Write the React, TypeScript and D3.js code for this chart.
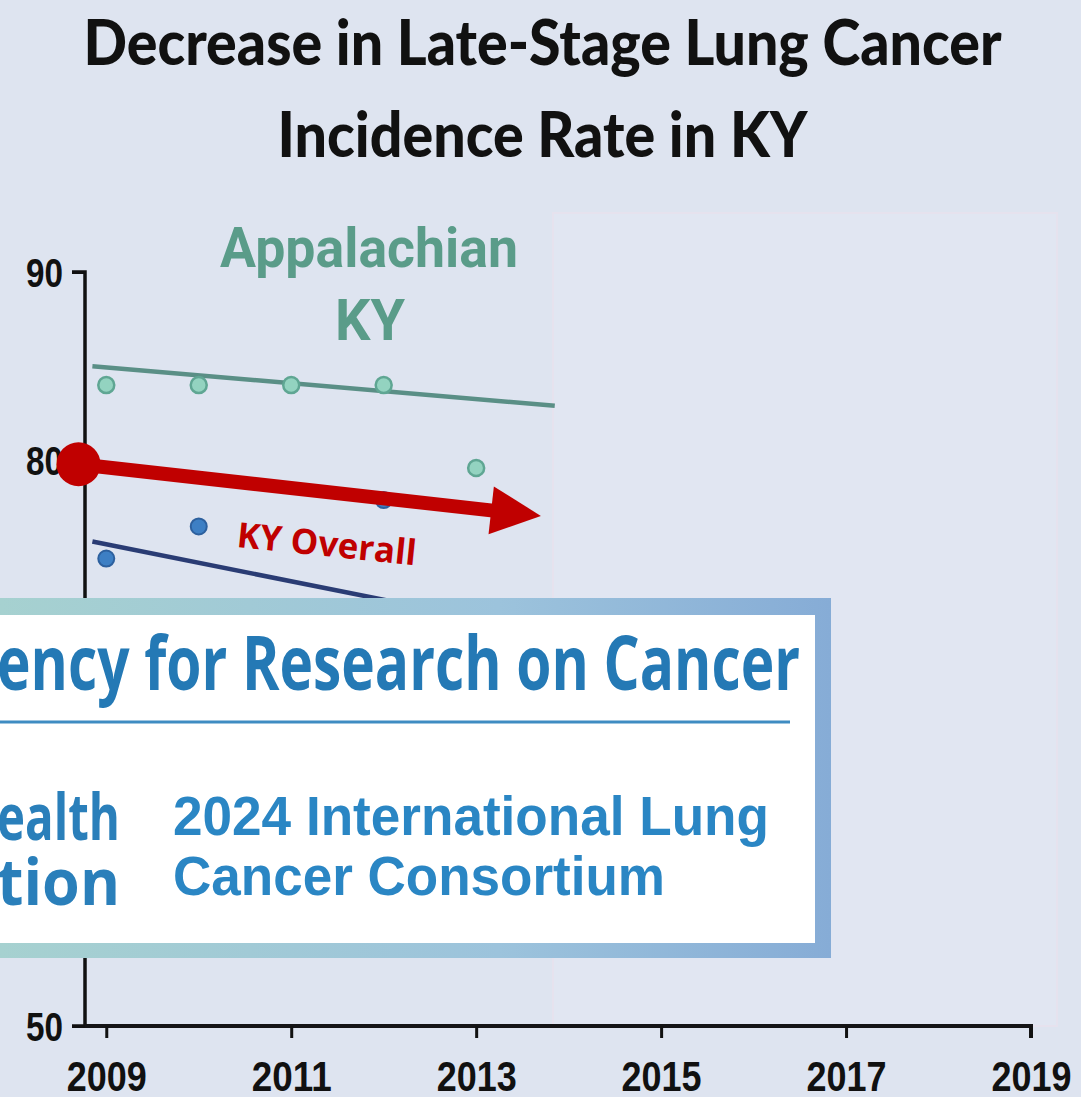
import React, { useEffect, useRef } from "react";
import * as d3 from "d3";

// ---- data ----
const titleLines = ["Decrease in Late-Stage Lung Cancer", "Incidence Rate in KY"];
const xTickYears = [2009, 2011, 2013, 2015, 2017, 2019];
const yTickValues = [50, 80, 90];
const yTickLabels = ["50", "80", "90"];

const appalachianYears = [2009, 2010, 2011, 2012, 2013];
const appalachianValues = [84.0, 84.0, 84.0, 84.0, 79.6];
const nonAppYears = [2009, 2010, 2012];
const nonAppValues = [74.8, 76.5, 77.9];

const trendYears = [2008.85, 2013.85];
const appalachianTrend = [85.0, 82.9];
const nonAppTrend = [75.7, 70.8];

const overallArrowYears = [2008.7, 2013.7];
const overallArrowValues = [79.8, 77.06];

const W = 1081;
const H = 1097;

export default function App() {
  const ref = useRef<SVGSVGElement>(null);

  useEffect(() => {
    const svg = d3.select(ref.current);
    svg.selectAll("*").remove();

    const x = d3.scaleLinear().domain([2008.77, 2019]).range([85, 1031]);
    const y = d3.scaleLinear().domain([50, 90]).range([1026, 272]);

    // background
    svg.append("rect").attr("width", W).attr("height", H).attr("fill", "#dee4f0");
    // cover patch
    svg.append("rect").attr("x", 553).attr("y", 213).attr("width", 504).attr("height", 813)
      .attr("fill", "#e1e6f2").attr("stroke", "#e6e2ee").attr("stroke-width", 2);

    // titles
    const tSizes = [{ y: 65, len: 918 }, { y: 157, len: 530 }];
    titleLines.forEach((t, i) => {
      svg.append("text").attr("x", W / 2 + 2).attr("y", tSizes[i].y)
        .attr("text-anchor", "middle")
        .attr("font-family", "Lato, 'Open Sans', sans-serif").attr("font-weight", 900)
        .attr("font-size", 63).attr("fill", "#111")
        .attr("textLength", tSizes[i].len).attr("lengthAdjust", "spacingAndGlyphs")
        .text(t);
    });

    // Appalachian label
    svg.append("text").attr("x", 369).attr("y", 267).attr("text-anchor", "middle")
      .attr("font-family", "Roboto, sans-serif").attr("font-weight", 700).attr("font-size", 55)
      .attr("fill", "#5a9c89").attr("textLength", 298).attr("lengthAdjust", "spacingAndGlyphs")
      .text("Appalachian");
    svg.append("text").attr("x", 370).attr("y", 340).attr("text-anchor", "middle")
      .attr("font-family", "Roboto, sans-serif").attr("font-weight", 700).attr("font-size", 57)
      .attr("fill", "#5a9c89").attr("textLength", 70).attr("lengthAdjust", "spacingAndGlyphs")
      .text("KY");

    const line = d3.line<[number, number]>().x(d => x(d[0])).y(d => y(d[1]));

    // trend lines
    svg.append("path").attr("d", line(trendYears.map((t, i) => [t, appalachianTrend[i]]) as any))
      .attr("stroke", "#5a8f86").attr("stroke-width", 4.5).attr("fill", "none");
    svg.append("path").attr("d", line(trendYears.map((t, i) => [t, nonAppTrend[i]]) as any))
      .attr("stroke", "#2a3c74").attr("stroke-width", 4.5).attr("fill", "none");

    // points
    svg.selectAll(".app").data(appalachianYears).enter().append("circle")
      .attr("cx", d => x(d)).attr("cy", (d, i) => y(appalachianValues[i])).attr("r", 8)
      .attr("fill", "#93d3c0").attr("stroke", "#5fa693").attr("stroke-width", 2.5);
    svg.selectAll(".non").data(nonAppYears).enter().append("circle")
      .attr("cx", d => x(d)).attr("cy", (d, i) => y(nonAppValues[i])).attr("r", 8)
      .attr("fill", "#3d7fc4").attr("stroke", "#2d609e").attr("stroke-width", 2);

    // axes
    const gy = svg.append("g").attr("transform", `translate(85,0)`)
      .call(d3.axisLeft(y).tickValues(yTickValues).tickFormat((d, i) => yTickLabels[i]).tickSize(13).tickPadding(9));
    gy.select(".domain").attr("stroke", "#111").attr("stroke-width", 3.5).attr("d", `M-13,${y(90)}H0V${y(50)}H-13`);
    gy.selectAll(".tick line").attr("stroke", "#111").attr("stroke-width", 3);
    gy.selectAll(".tick text").attr("font-family", "'Liberation Sans', Arial, sans-serif")
      .attr("font-weight", 700).attr("font-size", 40).attr("fill", "#111").attr("dy", "0.36em")
      .attr("textLength", 37).attr("lengthAdjust", "spacingAndGlyphs");

    const gx = svg.append("g").attr("transform", `translate(0,${y(50)})`)
      .call(d3.axisBottom(x).tickValues(xTickYears).tickFormat(d3.format("d")).tickSize(12).tickPadding(30));
    gx.select(".domain").attr("stroke", "#141416").attr("stroke-width", 4).attr("d", `M85,0H${x(2019)}V12`);
    gx.selectAll(".tick line").attr("stroke", "#111").attr("stroke-width", 3);
    gx.selectAll(".tick text").attr("font-family", "'Liberation Sans', Arial, sans-serif")
      .attr("font-weight", 700).attr("font-size", 42).attr("fill", "#111")
      .attr("dy", null).attr("y", 65)
      .attr("textLength", 80).attr("lengthAdjust", "spacingAndGlyphs");

    // KY overall arrow
    const ax0 = x(overallArrowYears[0]), ay0 = y(overallArrowValues[0]);
    const ax1 = x(overallArrowYears[1]), ay1 = y(overallArrowValues[1]);
    const ang = Math.atan2(ay1 - ay0, ax1 - ax0);
    const headLen = 50, headHalf = 24;
    const bx = ax1 - headLen * Math.cos(ang), by = ay1 - headLen * Math.sin(ang);
    svg.append("line").attr("x1", ax0).attr("y1", ay0).attr("x2", bx + 2 * Math.cos(ang)).attr("y2", by + 2 * Math.sin(ang))
      .attr("stroke", "#c00000").attr("stroke-width", 14);
    const px = -Math.sin(ang), py = Math.cos(ang);
    svg.append("path")
      .attr("d", `M${ax1},${ay1}L${bx + px * headHalf},${by + py * headHalf}L${bx - px * headHalf},${by - py * headHalf}Z`)
      .attr("fill", "#c00000");
    svg.append("circle").attr("cx", ax0).attr("cy", ay0).attr("r", 22).attr("fill", "#c00000");
    svg.append("text").attr("x", 236).attr("y", 547)
      .attr("transform", `rotate(${(ang * 180) / Math.PI - 0.5},236,547)`)
      .attr("font-family", "'Open Sans', sans-serif").attr("font-weight", 700).attr("font-size", 35)
      .attr("fill", "#c00000").attr("textLength", 180).attr("lengthAdjust", "spacingAndGlyphs")
      .text("KY Overall");

    // overlay box
    const defs = svg.append("defs");
    const grad = defs.append("linearGradient").attr("id", "boxg").attr("x1", "0").attr("x2", "1").attr("y1", "0").attr("y2", "0");
    grad.append("stop").attr("offset", "0").attr("stop-color", "#a6d1d0");
    grad.append("stop").attr("offset", "0.6").attr("stop-color", "#9cc3dc");
    grad.append("stop").attr("offset", "1").attr("stop-color", "#86acd6");
    svg.append("rect").attr("x", 0).attr("y", 598).attr("width", 831).attr("height", 360).attr("fill", "url(#boxg)");
    svg.append("rect").attr("x", 0).attr("y", 615).attr("width", 815).attr("height", 328).attr("fill", "#ffffff");

    svg.append("text").attr("x", -3).attr("y", 690)
      .attr("font-family", "'Open Sans', sans-serif").attr("font-weight", 700).attr("font-size", 76)
      .attr("fill", "#2479b5").attr("textLength", 803).attr("lengthAdjust", "spacingAndGlyphs")
      .text("ency for Research on Cancer");
    svg.append("line").attr("x1", 0).attr("x2", 790).attr("y1", 722).attr("y2", 722)
      .attr("stroke", "#3f8cc2").attr("stroke-width", 3);

    svg.append("text").attr("x", -3).attr("y", 840)
      .attr("font-family", "'Open Sans', sans-serif").attr("font-weight", 700).attr("font-size", 64)
      .attr("fill", "#2a7fba").attr("textLength", 123).attr("lengthAdjust", "spacingAndGlyphs")
      .text("ealth");
    svg.append("text").attr("x", -3).attr("y", 905)
      .attr("font-family", "'Open Sans', sans-serif").attr("font-weight", 700).attr("font-size", 64)
      .attr("fill", "#2a7fba").attr("textLength", 123).attr("lengthAdjust", "spacingAndGlyphs")
      .text("tion");

    svg.append("text").attr("x", 173).attr("y", 835)
      .attr("font-family", "'Liberation Sans', Arial, sans-serif").attr("font-weight", 700).attr("font-size", 56)
      .attr("fill", "#2a86c4").attr("textLength", 596).attr("lengthAdjust", "spacingAndGlyphs")
      .text("2024 International Lung");
    svg.append("text").attr("x", 173).attr("y", 895)
      .attr("font-family", "'Liberation Sans', Arial, sans-serif").attr("font-weight", 700).attr("font-size", 56)
      .attr("fill", "#2a86c4").attr("textLength", 492).attr("lengthAdjust", "spacingAndGlyphs")
      .text("Cancer Consortium");
  }, []);

  return (
    <svg ref={ref} width={W} height={H} style={{ position: "absolute", left: 0, top: 0, display: "block" }} />
  );
}
